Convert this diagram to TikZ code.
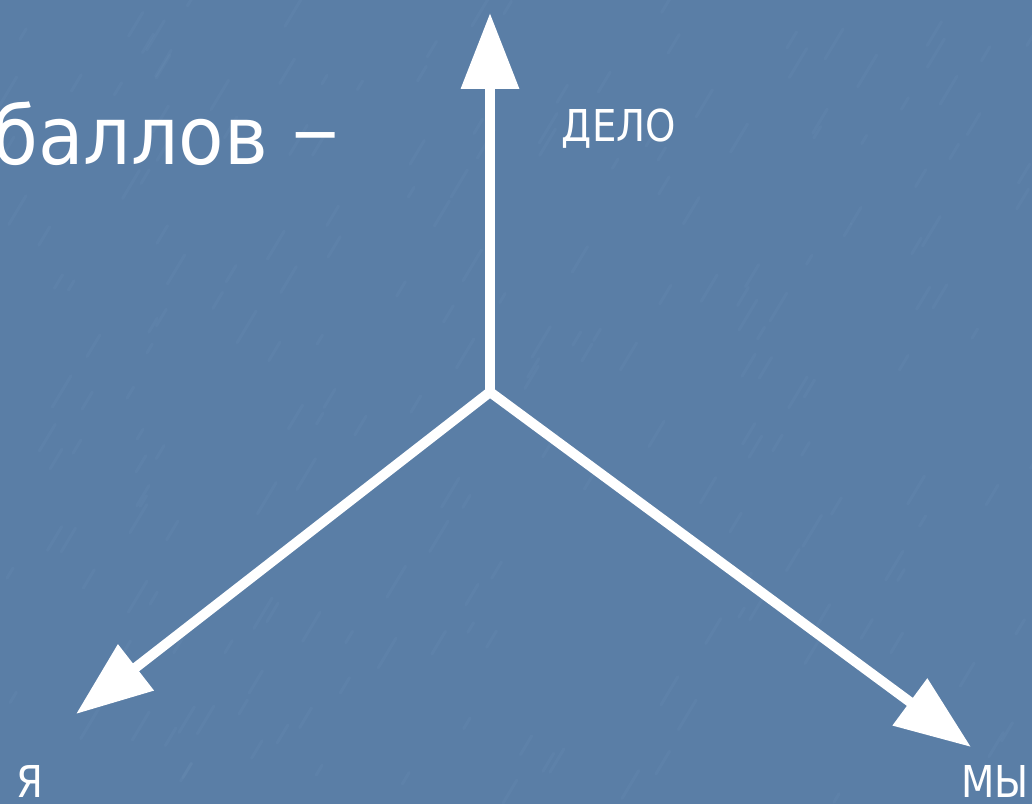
\documentclass[tikz,border=0pt]{standalone}
\usepackage{fontspec}
\setmainfont{DejaVu Sans}
\newfontfamily\narrowsans[FakeStretch=0.88]{DejaVu Sans}
\newfontfamily\titlesans[FakeStretch=0.92]{DejaVu Sans}
\usepackage{tikz}
\usetikzlibrary{arrows.meta}
\definecolor{slate}{HTML}{5A7EA6}
\definecolor{frost}{HTML}{8FB0D2}
\tikzset{>={Triangle[length=1.52cm,width=1.12cm]}}
\tikzset{%
    prong/.style={white,line width=0.2cm,miter limit=20},
    lbl/.style={white,inner sep=0pt,font=\narrowsans\fontsize{25}{30}\selectfont}
}

\begin{document}
\begin{tikzpicture}[x=0.02cm,y=-0.02cm]
    \useasboundingbox (0,0) rectangle (1032,804);
    \clip (0,0) rectangle (1032,804);
    \fill[slate] (0,0) rectangle (1032,804);
    % faint streaks of the backdrop
    \pgfmathsetseed{7}
    \foreach \i in {1,...,220}{
        \pgfmathsetmacro{\sx}{1032*rnd}
        \pgfmathsetmacro{\sy}{804*rnd}
        \pgfmathsetmacro{\sl}{8+24*rnd}
        \draw[frost,opacity=0.07,line width=0.06cm,line cap=round] (\sx,\sy)--++(0.6*\sl,-\sl);
    }

    \node[white,inner sep=0pt,anchor=base west,font=\titlesans\fontsize{46}{55}\selectfont] (title) at (-8,165) {баллов \raisebox{0.09em}{\scalebox{1.3}[1]{–}}};

    \coordinate (o) at (490,392);
    \coordinate (delo) at (490,13);
    \coordinate (ya) at (76,714);
    \coordinate (my) at (971,747);
    \draw[prong,->] (o)--(delo);
    \draw[prong,<->] (ya)--(o)--(my);

    \node[lbl,anchor=base] (tdelo) at (619,142) {ДЕЛО};
    \node[lbl,anchor=base west] (tya) at (16,797) {Я};
    \node[lbl,anchor=base east] (tmy) at (1029,797) {МЫ};
\end{tikzpicture}
\end{document}
